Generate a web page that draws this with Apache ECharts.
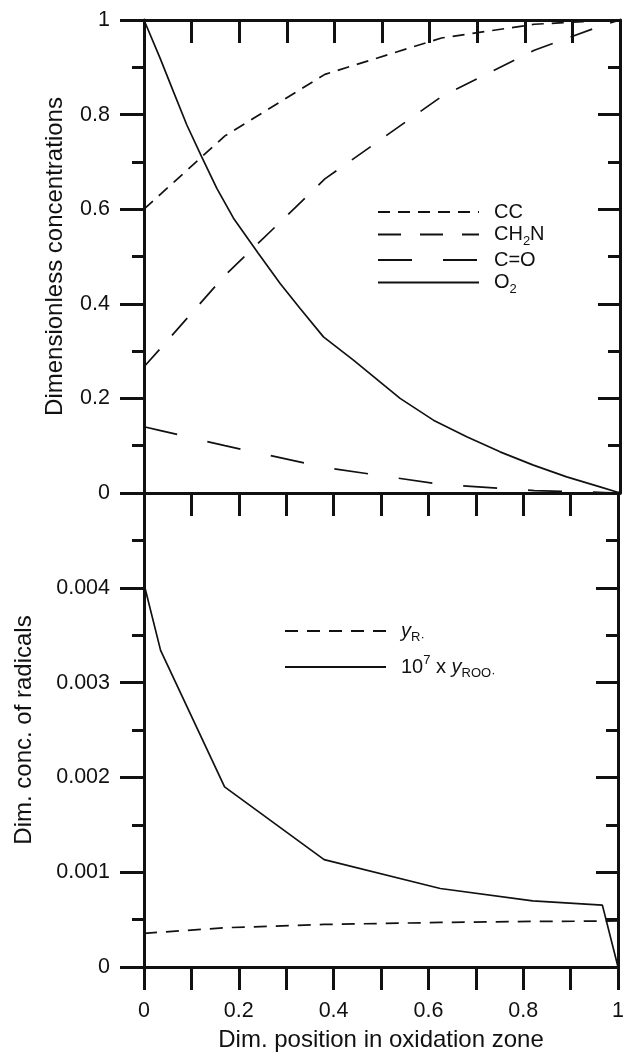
<!DOCTYPE html>
<html>
<head>
<meta charset="utf-8">
<script src="https://cdn.jsdelivr.net/npm/echarts@6/dist/echarts.min.js"></script>
<style>
  html, body { margin: 0; padding: 0; background: #fff; }
  #chart { width: 627px; height: 1053px; }
</style>
</head>
<body>
<div id="chart"></div>
<script>
// Dimensionless position across the oxidation zone (computational mesh)
const position = [0, 0.035, 0.17, 0.38, 0.625, 0.82, 0.967, 1];

// Upper panel: dimensionless concentrations on the mesh
const cc   = [0.600, 0.632, 0.755, 0.885, 0.962, 0.991, 0.999, 1.000];
const ch2n = [0.267, 0.306, 0.460, 0.664, 0.838, 0.936, 0.990, 1.000];
const co   = [0.140, 0.132, 0.100, 0.054, 0.018, 0.005, 0.001, 0.000];

// Oxygen profile (smooth curve, sampled more densely)
const o2Position = [0, 0.034, 0.062, 0.090, 0.121, 0.153, 0.188, 0.240, 0.286, 0.328,
                    0.377, 0.440, 0.538, 0.608, 0.678, 0.748, 0.818, 0.888, 0.958, 1];
const o2         = [1, 0.919, 0.848, 0.778, 0.711, 0.644, 0.581, 0.507, 0.443, 0.390,
                    0.330, 0.281, 0.200, 0.154, 0.119, 0.087, 0.059, 0.034, 0.013, 0];

// Lower panel: radical concentrations on the mesh
const yR       = [0.000355, 0.000367, 0.000414, 0.000449, 0.000470, 0.000481, 0.000484, 0.000485];
const yROOx1e7 = [0.00404, 0.00334, 0.00190, 0.001133, 0.000828, 0.000698, 0.000653, 0];

// Axis tick labels
const positionLabels = ['0', '0.2', '0.4', '0.6', '0.8', '1'];
const concLabels = ['0', '0.2', '0.4', '0.6', '0.8', '1'];
const radicalLabels = ['0', '0.001', '0.002', '0.003', '0.004'];

const INK = '#111';
const FONT = '"Liberation Sans", Arial, Helvetica, sans-serif';

const pairs = (xs, ys) => xs.map((x, i) => [x, ys[i]]);

const axisLine = { show: true, onZero: false, lineStyle: { color: INK, width: 3 } };
const tickStyle = { color: INK, width: 3 };
const noSplit = { show: false };

// Label only the values that fall on a multiple of `step`
function labelFrom(list, step) {
  return v => {
    const q = v / step;
    const k = Math.round(q);
    if (Math.abs(q - k) > 1e-6) return '';
    return list[k] !== undefined ? list[k] : '';
  };
}

const rich = {
  b: { fontSize: 20, lineHeight: 26, color: INK, fontFamily: FONT },
  i: { fontSize: 20, lineHeight: 26, color: INK, fontFamily: FONT, fontStyle: 'italic' },
  s: { fontSize: 13, lineHeight: 13, color: INK, fontFamily: FONT, verticalAlign: 'bottom' },
  p: { fontSize: 13, lineHeight: 16, color: INK, fontFamily: FONT, verticalAlign: 'top' }
};
const legendText = {
  'CC': '{b|CC}',
  'CH2N': '{b|CH}{s|2}{b|N}',
  'C=O': '{b|C=O}',
  'O2': '{b|O}{s|2}',
  'yR': '{i|y}{s|R·}',
  'yROO': '{b|10}{p|7}{b| x }{i|y}{s|ROO·}'
};

function lineSeries(name, data, xi, yi, dash) {
  return {
    type: 'line', name, data, xAxisIndex: xi, yAxisIndex: yi,
    symbol: 'none', showSymbol: false, silent: true,
    lineStyle: { color: INK, width: 1.7, type: dash || 'solid' },
    itemStyle: { color: INK }
  };
}

const legendBase = {
  orient: 'vertical', padding: 0, itemWidth: 101, itemHeight: 14,
  selectedMode: false, itemStyle: { opacity: 0 },
  formatter: name => legendText[name],
  textStyle: { color: INK, fontFamily: FONT, fontSize: 20, padding: [0, 0, 0, 10], rich }
};

const chart = echarts.init(document.getElementById('chart'), null, { renderer: 'canvas' });
chart.setOption({
  animation: false,
  backgroundColor: '#fff',
  textStyle: { fontFamily: FONT, color: INK },
  grid: [
    { left: 144, right: 7, top: 20, height: 473 },
    { left: 144, right: 7, top: 493, height: 474 }
  ],
  legend: [
    Object.assign({}, legendBase, { data: ['CC', 'CH2N', 'C=O', 'O2'], left: 377, top: 202, itemGap: 2.5 }),
    Object.assign({}, legendBase, { data: ['yR', 'yROO'], left: 284, top: 621, itemGap: 10 })
  ],
  xAxis: [
    { gridIndex: 0, type: 'value', min: 0, max: 1, interval: 0.1, position: 'bottom',
      axisLine, axisTick: { show: false }, axisLabel: { show: false }, splitLine: noSplit },
    { gridIndex: 0, type: 'value', min: 0, max: 1, interval: 0.1, position: 'top',
      axisLine, axisTick: { show: true, inside: true, length: 23, lineStyle: tickStyle },
      axisLabel: { show: false }, splitLine: noSplit },
    { gridIndex: 1, type: 'value', min: 0, max: 1, interval: 0.1, position: 'bottom',
      axisLine, axisTick: { show: true, inside: false, length: 23, lineStyle: tickStyle },
      axisLabel: { show: true, margin: 33, fontSize: 21.5, color: INK, fontFamily: FONT,
                   formatter: labelFrom(positionLabels, 0.2) },
      splitLine: noSplit,
      name: 'Dim. position in oxidation zone', nameLocation: 'middle', nameGap: 61,
      nameTextStyle: { fontSize: 24, color: INK, fontFamily: FONT } },
    { gridIndex: 1, type: 'value', min: 0, max: 1, interval: 0.1, position: 'top',
      axisLine, axisTick: { show: true, inside: true, length: 23, lineStyle: tickStyle },
      axisLabel: { show: false }, splitLine: noSplit }
  ],
  yAxis: [
    { gridIndex: 0, type: 'value', min: 0, max: 1, interval: 0.2, position: 'left',
      axisLine, axisTick: { show: true, inside: false, length: 24, lineStyle: tickStyle },
      minorTick: { show: true, splitNumber: 2, length: 12, lineStyle: tickStyle },
      axisLabel: { show: true, margin: 34, fontSize: 21.5, color: INK, fontFamily: FONT,
                   formatter: labelFrom(concLabels, 0.2) },
      splitLine: noSplit, minorSplitLine: { show: false },
      name: 'Dimensionless concentrations', nameLocation: 'middle', nameGap: 77,
      nameTextStyle: { fontSize: 24, color: INK, fontFamily: FONT } },
    { gridIndex: 0, type: 'value', min: 0, max: 1, interval: 0.2, position: 'right',
      axisLine, axisTick: { show: true, inside: true, length: 22, lineStyle: tickStyle },
      minorTick: { show: true, splitNumber: 2, length: 12, lineStyle: tickStyle },
      axisLabel: { show: false }, splitLine: noSplit },
    { gridIndex: 1, type: 'value', min: 0, max: 0.005, interval: 0.001, position: 'left',
      axisLine, axisTick: { show: true, inside: false, length: 24, lineStyle: tickStyle },
      minorTick: { show: true, splitNumber: 2, length: 12, lineStyle: tickStyle },
      axisLabel: { show: true, margin: 34, fontSize: 21.5, color: INK, fontFamily: FONT,
                   formatter: labelFrom(radicalLabels, 0.001) },
      splitLine: noSplit,
      name: 'Dim. conc. of radicals', nameLocation: 'middle', nameGap: 108,
      nameTextStyle: { fontSize: 24, color: INK, fontFamily: FONT } },
    { gridIndex: 1, type: 'value', min: 0, max: 0.005, interval: 0.001, position: 'right',
      axisLine, axisTick: { show: true, inside: true, length: 22, lineStyle: tickStyle },
      minorTick: { show: true, splitNumber: 2, length: 12, lineStyle: tickStyle },
      axisLabel: { show: false }, splitLine: noSplit }
  ],
  series: [
    lineSeries('CC', pairs(position, cc), 0, 0, [12, 8]),
    lineSeries('CH2N', pairs(position, ch2n), 0, 0, [23, 19]),
    lineSeries('C=O', pairs(position, co), 0, 0, [34, 31]),
    lineSeries('O2', pairs(o2Position, o2), 0, 0, 'solid'),
    lineSeries('yR', pairs(position, yR), 2, 2, [13, 9]),
    lineSeries('yROO', pairs(position, yROOx1e7), 2, 2, 'solid')
  ]
});
</script>
</body>
</html>
